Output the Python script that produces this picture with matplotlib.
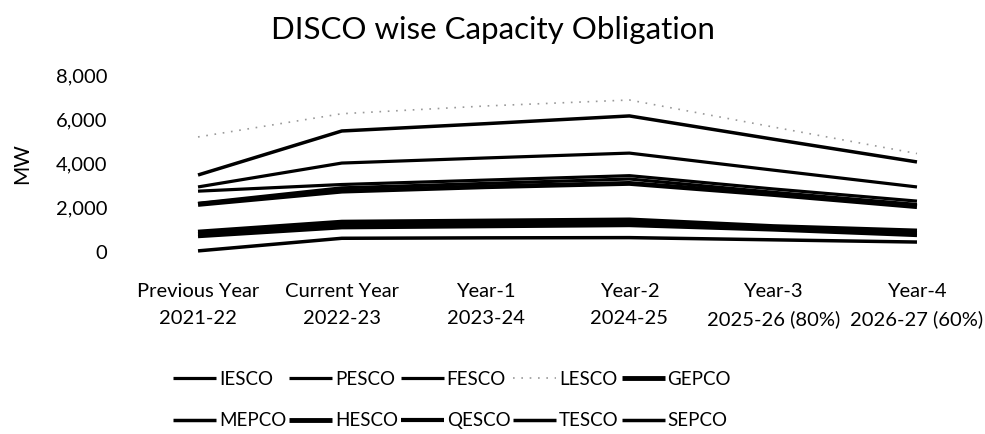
import matplotlib.pyplot as plt

plt.rcParams['font.family'] = ['Lato', 'DejaVu Sans']

# DISCO wise capacity obligation (MW)
years = ['Previous Year\n2021-22', 'Current Year\n2022-23', 'Year-1\n2023-24',
         'Year-2\n2024-25', 'Year-3\n2025-26 (80%)', 'Year-4\n2026-27 (60%)']

IESCO = [2750, 3050, 3250, 3450, 2850, 2300]
PESCO = [2200, 2900, 3100, 3300, 2700, 2150]
FESCO = [2940, 4020, 4250, 4470, 3700, 2940]
LESCO = [5200, 6250, 6600, 6870, 5650, 4450]
GEPCO = [2150, 2750, 2950, 3100, 2600, 2050]
MEPCO = [3480, 5470, 5800, 6150, 5100, 4070]
HESCO = [900, 1350, 1400, 1450, 1150, 950]
QESCO = [800, 1200, 1250, 1300, 1050, 850]
TESCO = [50, 620, 640, 650, 550, 450]
SEPCO = [700, 1100, 1150, 1200, 1000, 750]

series = [('IESCO', IESCO, 2.3, '-'), ('PESCO', PESCO, 2.3, '-'),
          ('FESCO', FESCO, 2.3, '-'), ('LESCO', LESCO, 1.2, (0, (1, 4))),
          ('GEPCO', GEPCO, 3.5, '-'), ('MEPCO', MEPCO, 2.5, '-'),
          ('HESCO', HESCO, 3.5, '-'), ('QESCO', QESCO, 3.0, '-'),
          ('TESCO', TESCO, 2.5, '-'), ('SEPCO', SEPCO, 2.5, '-')]

fig = plt.figure(figsize=(9.85, 4.34), dpi=100)
ax = fig.add_axes([130 / 985, 1 - 252 / 434, 855 / 985, 177 / 434])

x = range(len(years))
handles = {}
for name, vals, lw, ls in series:
    col = '#999999' if name == 'LESCO' else 'black'
    ln, = ax.plot(x, vals, color=col, lw=lw, ls=ls, clip_on=False,
                  solid_capstyle='butt')
    handles[name] = ln

ax.set_xlim(-0.473, 5.473)
ax.set_ylim(0, 8000)
ax.set_yticks([0, 2000, 4000, 6000, 8000])
ax.set_yticklabels(['{:,}'.format(v) for v in [0, 2000, 4000, 6000, 8000]])
ax.set_xticks(list(x))
ax.set_xticklabels(years, linespacing=1.75)
ax.tick_params(length=0, labelsize=14.5, colors='black')
ax.tick_params(axis='y', pad=16.5)
ax.tick_params(axis='x', pad=22)
for s in ax.spines.values():
    s.set_visible(False)

ax.set_ylabel('MW', fontsize=15, labelpad=17)
fig.text(0.5, 0.93, 'DISCO wise Capacity Obligation', ha='center',
         va='center', fontsize=22.5)

# legend is row-major in the original, so interleave the two rows
row1 = ['IESCO', 'PESCO', 'FESCO', 'LESCO', 'GEPCO']
row2 = ['MEPCO', 'HESCO', 'QESCO', 'TESCO', 'SEPCO']
order = [n for pair in zip(row1, row2) for n in pair]
fig.legend([handles[n] for n in order], order, ncol=5, frameon=False,
           loc='center', bbox_to_anchor=(452 / 985, 1 - 400 / 434),
           fontsize=13.5, handlelength=2.3, handletextpad=0.15,
           columnspacing=0.15, labelspacing=1.3)

fig.savefig('out.png', dpi=100)
